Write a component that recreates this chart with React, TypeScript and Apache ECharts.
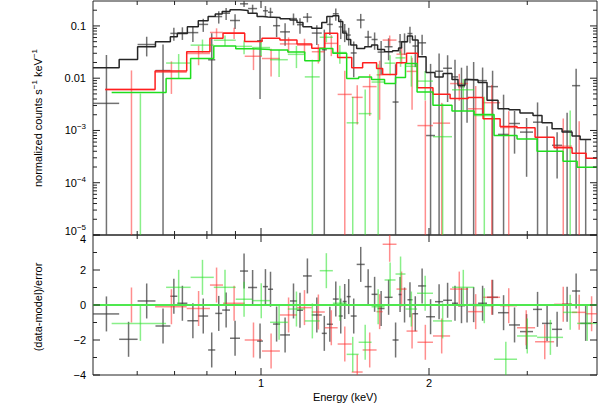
import React, { useEffect, useRef } from 'react';
import * as echarts from 'echarts';

const X_MIN = 0.5;
const X_MAX = 4;
const Y_MIN = 1e-5;
const Y_MAX = 0.3;
const R_MIN = -4;
const R_MAX = 4;

// ---- dataset 1 (black) ----
const blackEdges = [0.500, 0.557, 0.601, 0.647, 0.688, 0.708, 0.738, 0.772, 0.804, 0.828, 0.852, 0.880, 0.917, 0.948, 0.984, 1.008, 1.029, 1.051, 1.082, 1.127, 1.160, 1.189, 1.233, 1.285, 1.312, 1.345, 1.378, 1.401, 1.424, 1.448, 1.484, 1.534, 1.578, 1.618, 1.665, 1.721, 1.764, 1.786, 1.830, 1.868, 1.912, 1.976, 2.050, 2.120, 2.199, 2.254, 2.320, 2.360, 2.449, 2.541, 2.659, 2.782, 2.911, 3.072, 3.188, 3.323, 3.463, 3.609, 3.731, 3.904];
const blackModel = [0.0158, 0.0229, 0.040, 0.050, 0.062, 0.072, 0.097, 0.126, 0.151, 0.170, 0.188, 0.203, 0.197, 0.175, 0.151, 0.148, 0.147, 0.145, 0.137, 0.130, 0.116, 0.097, 0.090, 0.116, 0.151, 0.156, 0.121, 0.073, 0.055, 0.043, 0.037, 0.040, 0.043, 0.0356, 0.0321, 0.0335, 0.0378, 0.050, 0.064, 0.0538, 0.0257, 0.0129, 0.0106, 0.0123, 0.0094, 0.0073, 0.0094, 0.0092, 0.0083, 0.0038, 0.0026, 0.0025, 0.00215, 0.00194, 0.00141, 0.00108, 0.00093, 0.00078, 0.00067];
const blackData = [0.0033, -0.001, 0.0441, 0.014, 0.072, 0.074, 0.0745, 0.107, 0.0225, 0.151, 0.175, 0.127, 0.265, 0.215, 0.052, 0.195, 0.183, 0.101, 0.077, 0.138, 0.1055, 0.147, 0.073, 0.035, 0.107, 0.171, 0.096, 0.079, 0.067, 0.0304, 0.130, 0.061, 0.055, 0.0316, 0.040, 0.0035, 0.0498, 0.050, 0.0715, 0.0413, 0.0475, 0.0008, 0.0136, 0.0155, 0.0106, 0.0069, 0.0094, 0.0094, 0.009, 0.0069, 0.00084, 0.00136, 0.00093, 0.00144, 0.000005, 0.00052, 0.00098, 0.0072, 0.000005];
const blackErr = [0.0245, 0.007, 0.018, 0.03, 0.02, 0.02, 0.025, 0.03, 0.05, 0.04, 0.045, 0.04, 0.035, 0.04, 0.048, 0.045, 0.04, 0.04, 0.035, 0.035, 0.035, 0.03, 0.03, 0.05, 0.04, 0.045, 0.04, 0.03, 0.025, 0.02, 0.04, 0.02, 0.02, 0.02, 0.018, 0.015, 0.02, 0.022, 0.025, 0.025, 0.02, 0.018, 0.016, 0.012, 0.012, 0.009, 0.008, 0.011, 0.007, 0.007, 0.004, 0.001, 0.0008, 0.002, 0.0012, 0.0004, 0.0012, 0.008, 0.00065];
const blackResid = [-0.51, -1.96, 0.23, -1.2, 0.5, 0.1, -0.9, -0.63, -2.57, -0.48, -0.29, -1.9, 1.94, 1.0, -2.06, 1.05, 0.9, -1.09, -1.71, 0.23, -0.3, 1.66, -0.57, -1.62, -1.1, 0.34, -0.63, 0.2, 0.48, -0.63, 2.32, 1.05, 0.61, -0.2, 0.44, -2.0, 0.6, 0, 0.3, -0.5, 1.09, -0.67, 0.19, 0.27, 0.1, -0.04, 0, 0.02, 0.1, 0.44, -0.44, -1.14, -1.52, -0.25, -1.05, -1.39, 0.04, 0.8, -1.05];

// ---- dataset 2 (red) ----
const redEdges = [0.526, 0.646, 0.736, 0.810, 0.855, 0.935, 1.004, 1.081, 1.160, 1.233, 1.301, 1.372, 1.454, 1.521, 1.611, 1.652, 1.749, 1.823, 1.907, 2.033, 2.182, 2.350, 2.500, 2.682, 2.876, 3.098, 3.351, 3.609, 3.824, 4.0];
const redModel = [0.00607, 0.0138, 0.0321, 0.058, 0.0724, 0.0503, 0.058, 0.0538, 0.0451, 0.0373, 0.0724, 0.0250, 0.0158, 0.0197, 0.0154, 0.0118, 0.0197, 0.0299, 0.00656, 0.00492, 0.00407, 0.00426, 0.00168, 0.00119, 0.00113, 0.00074, 0.000465, 0.000366, 0.000293];
const redData = [0.00607, 0.013, 0.0297, 0.075, 0.074, 0.0263, 0.0238, 0.0453, 0.0430, 0.0321, 0.0464, 0.0049, 0.0043, 0.0069, 0.0116, 0.0536, 0.0288, 0.0135, 0.00124, 0.00138, 0.0079, 0.0026, 0.0034, 0.00114, -0.00001, -0.00002, 0.0005, 0.000005, -0.00001];
const redErr = [0.008, 0.008, 0.012, 0.015, 0.018, 0.012, 0.013, 0.015, 0.014, 0.013, 0.02, 0.009, 0.003, 0.005, 0.01, 0.012, 0.01, 0.011, 0.0025, 0.002, 0.0042, 0.0045, 0.004, 0.0012, 0.00088, 0.00036, 0.0012, 0.0015, 0.0006];
const redResid = [0, -0.1, -0.2, 1.14, 0.1, -2.0, -2.63, -0.57, -0.15, -0.4, -1.3, -2.23, -3.83, -2.57, -0.38, 3.47, 0.91, -1.49, -2.13, -1.77, 0.91, -0.38, 0.44, -0.04, -1.3, -2.1, 0.04, -0.42, -0.5];

// ---- dataset 3 (green) ----
const greenEdges = [0.540, 0.676, 0.748, 0.823, 0.901, 0.964, 1.038, 1.117, 1.198, 1.274, 1.345, 1.424, 1.496, 1.578, 1.665, 1.742, 1.815, 1.904, 2.033, 2.199, 2.409, 2.616, 2.876, 3.124, 3.477, 3.685, 4.0];
const greenModel = [0.00531, 0.00986, 0.0239, 0.0412, 0.0366, 0.0356, 0.0345, 0.0316, 0.0215, 0.0372, 0.0299, 0.00986, 0.0106, 0.00944, 0.00791, 0.0103, 0.0192, 0.00545, 0.00303, 0.00235, 0.00203, 0.00080, 0.00069, 0.00040, 0.000257, 0.000197];
const greenData = [0.000005, 0.0195, 0.0429, 0.0533, 0.0406, 0.0386, 0.0226, 0.0286, 0.0106, 0.0607, 0.031, 0.0014, 0.0021, 0.00844, 0.0194, 0.0245, 0.0169, 0.0088, 0.00076, 0.0060, 0.00193, -0.00001, -0.00001, -0.00001, 0.000005, -0.00001];
const greenErr = [0.0051, 0.0095, 0.012, 0.012, 0.012, 0.012, 0.012, 0.013, 0.012, 0.012, 0.012, 0.003, 0.004, 0.01, 0.008, 0.008, 0.01, 0.005, 0.0025, 0.0036, 0.0025, 0.00026, 0.0004, 0.00022, 0.0024, 0.0002];
const greenResid = [-1.05, 1.01, 1.58, 1.01, 0.33, 0.25, -0.99, -0.23, -0.91, 1.96, 0.1, -2.82, -2.13, -0.1, 1.43, 1.77, -0.23, 0.67, -0.91, 1.01, -0.04, -3.1, -1.77, -1.85, -0.42, -1.05];

// ---- axis ticks / labels ----
const xMajorTicks = [1, 2];
const xTickLabels = ['1', '2'];
const xMinorTicks = [0.6, 0.7, 0.8, 0.9, 3];
const yTopMajor = [1e-5, 1e-4, 1e-3, 0.01, 0.1];
const yTopLabels = ['10{s|\u22125}', '10{s|\u22124}', '10{s|\u22123}', '0.01', '0.1'];
const yTopLabelShift = [-4, 0, 0, 0, 0];
const yResMajor = [-4, -2, 0, 2, 4];
const yResLabels = ['\u22124', '\u22122', '0', '2', '4'];
const yResLabelShift = [0, 0, 0, 0, 4];
const yResMinor = [-3, -1, 1, 3];

const FONT = "'Liberation Sans', Arial, Helvetica, sans-serif";
const SUP = { s: { fontSize: 8, fontFamily: FONT, fill: '#000', padding: [0, 0, 7, 0] } };

const COLORS = {
  black: { cross: 'rgba(60,60,60,0.72)', model: '#262626' },
  red: { cross: 'rgba(255,50,50,0.55)', model: '#ff1f1f' },
  green: { cross: 'rgba(40,225,40,0.55)', model: '#1fdd1f' },
};

function ln(x1: number, y1: number, x2: number, y2: number, stroke: string, w: number) {
  return { type: 'line', shape: { x1, y1, x2, y2 }, style: { stroke, lineWidth: w } };
}

function spectrumSeries(edges: number[], data: number[], err: number[], color: string) {
  const items: number[][] = [];
  data.forEach((v, i) => {
    if (v > 0) items.push([edges[i], edges[i + 1], v, err[i]]);
  });
  return {
    type: 'custom', xAxisIndex: 0, yAxisIndex: 0, silent: true, clip: true,
    encode: { x: [0, 1], y: 2 },
    data: items,
    renderItem: (params: any, api: any) => {
      const lo = api.value(0), hi = api.value(1), v = api.value(2), e = api.value(3);
      const top = Math.min(v + e, Y_MAX);
      const bot = v - e > Y_MIN ? v - e : Y_MIN;
      const xc = (lo + hi) / 2;
      const children: any[] = [];
      if (v >= Y_MIN) {
        const a = api.coord([lo, v]), b = api.coord([hi, v]);
        children.push(ln(a[0], a[1], b[0], b[1], color, 1.5));
      }
      const c = api.coord([xc, top]), d = api.coord([xc, bot]);
      children.push(ln(c[0], c[1], d[0], d[1], color, 1.5));
      return { type: 'group', children };
    },
  };
}

function residSeries(edges: number[], resid: number[], color: string) {
  const items = resid.map((r, i) => [edges[i], edges[i + 1], r]);
  return {
    type: 'custom', xAxisIndex: 1, yAxisIndex: 1, silent: true, clip: true,
    encode: { x: [0, 1], y: 2 },
    data: items,
    renderItem: (params: any, api: any) => {
      const lo = api.value(0), hi = api.value(1), r = api.value(2);
      const xc = (lo + hi) / 2;
      const a = api.coord([lo, r]), b = api.coord([hi, r]);
      const c = api.coord([xc, Math.min(r + 1, R_MAX)]), d = api.coord([xc, Math.max(r - 1, R_MIN)]);
      return { type: 'group', children: [ln(a[0], a[1], b[0], b[1], color, 1.5), ln(c[0], c[1], d[0], d[1], color, 1.5)] };
    },
  };
}

function modelSeries(edges: number[], model: number[], color: string) {
  const pts = model.map((m, i) => [edges[i], m]);
  pts.push([edges[edges.length - 1], model[model.length - 1]]);
  return {
    type: 'line', xAxisIndex: 0, yAxisIndex: 0, step: 'end', silent: true, clip: true,
    showSymbol: false, symbol: 'none', data: pts,
    lineStyle: { color, width: 1.5 },
  };
}

function decorSeries(gridIdx: number) {
  const yRef = gridIdx === 0 ? 0.01 : 0;
  const items: number[][] = [];
  xMajorTicks.forEach((x, i) => items.push([x, yRef, 0, i]));
  xMinorTicks.forEach((x) => items.push([x, yRef, 1, 0]));
  if (gridIdx === 0) {
    yTopMajor.forEach((y, i) => items.push([1, y, 2, i]));
    for (let n = -5; n <= -1; n++) {
      for (let m = 2; m <= 9; m++) {
        const v = m * Math.pow(10, n);
        if (v < Y_MAX) items.push([1, v, 3, 0]);
      }
    }
  } else {
    yResMajor.forEach((y, i) => items.push([1, y, 2, i]));
    yResMinor.forEach((y) => items.push([1, y, 3, 0]));
  }
  return {
    type: 'custom', xAxisIndex: gridIdx, yAxisIndex: gridIdx, silent: true, clip: false,
    encode: { x: 0, y: 1 },
    data: items,
    z: 10,
    renderItem: (params: any, api: any) => {
      const cs = params.coordSys;
      const L = cs.x, R = cs.x + cs.width, T = cs.y, B = cs.y + cs.height;
      const kind = api.value(2), idx = api.value(3);
      const p = api.coord([api.value(0), api.value(1)]);
      const col = '#222';
      const children: any[] = [];
      if (kind === 0 || kind === 1) {
        const len = kind === 0 ? 7 : 4;
        children.push(ln(p[0], B, p[0], B - len, col, 1), ln(p[0], T, p[0], T + len, col, 1));
        if (kind === 0 && gridIdx === 1) {
          children.push({ type: 'text', style: { text: xTickLabels[idx], x: p[0], y: B + 2, align: 'center', verticalAlign: 'top', fontSize: 11, fontFamily: FONT, fill: '#000' } });
        }
      } else {
        const len = kind === 2 ? 7 : 4;
        children.push(ln(L, p[1], L + len, p[1], col, 1), ln(R, p[1], R - len, p[1], col, 1));
        if (kind === 2) {
          const label = gridIdx === 0 ? yTopLabels[idx] : yResLabels[idx];
          const shift = gridIdx === 0 ? yTopLabelShift[idx] : yResLabelShift[idx];
          children.push({ type: 'text', style: { text: label, rich: SUP, x: L - 7, y: p[1] + shift, align: 'right', verticalAlign: 'middle', fontSize: 11, fontFamily: FONT, fill: '#000' } });
        }
      }
      return { type: 'group', children };
    },
  };
}

export default function App() {
  const ref = useRef<HTMLDivElement>(null);
  useEffect(() => {
    const chart = echarts.init(ref.current as HTMLDivElement, null, { renderer: 'svg' });
    const hiddenAxis = { axisLine: { show: false }, axisTick: { show: false }, axisLabel: { show: false }, splitLine: { show: false } };
    const option: any = {
      animation: false,
      backgroundColor: '#fff',
      grid: [
        { left: 93, top: 1, width: 504, height: 234, show: true, borderColor: '#222', borderWidth: 1, backgroundColor: 'transparent' },
        { left: 93, top: 235, width: 504, height: 140, show: true, borderColor: '#222', borderWidth: 1, backgroundColor: 'transparent' },
      ],
      xAxis: [
        { type: 'log', logBase: 10, min: X_MIN, max: X_MAX, gridIndex: 0, ...hiddenAxis },
        { type: 'log', logBase: 10, min: X_MIN, max: X_MAX, gridIndex: 1, ...hiddenAxis },
      ],
      yAxis: [
        { type: 'log', logBase: 10, min: Y_MIN, max: Y_MAX, gridIndex: 0, ...hiddenAxis },
        { type: 'value', min: R_MIN, max: R_MAX, gridIndex: 1, ...hiddenAxis },
      ],
      series: [
        spectrumSeries(blackEdges, blackData, blackErr, COLORS.black.cross),
        modelSeries(blackEdges, blackModel, COLORS.black.model),
        spectrumSeries(redEdges, redData, redErr, COLORS.red.cross),
        modelSeries(redEdges, redModel, COLORS.red.model),
        spectrumSeries(greenEdges, greenData, greenErr, COLORS.green.cross),
        modelSeries(greenEdges, greenModel, COLORS.green.model),
        residSeries(blackEdges, blackResid, COLORS.black.cross),
        residSeries(redEdges, redResid, COLORS.red.cross),
        residSeries(greenEdges, greenResid, COLORS.green.cross),
        {
          type: 'line', xAxisIndex: 1, yAxisIndex: 1, silent: true, showSymbol: false, symbol: 'none',
          data: [[X_MIN, 0], [X_MAX, 0]], lineStyle: { color: '#4fe84f', width: 2 },
        },
        decorSeries(0),
        decorSeries(1),
      ],
      graphic: [
        { type: 'text', x: 38, y: 118, rotation: Math.PI / 2, silent: true,
          style: { text: 'normalized counts s{s|\u22121} keV{s|\u22121}', rich: SUP, x: 0, y: 0, align: 'center', verticalAlign: 'middle', fontSize: 11, fontFamily: FONT, fill: '#000' } },
        { type: 'text', x: 38, y: 307, rotation: Math.PI / 2, silent: true,
          style: { text: '(data-model)/error', x: 0, y: 0, align: 'center', verticalAlign: 'middle', fontSize: 11, fontFamily: FONT, fill: '#000' } },
        { type: 'text', x: 345, y: 397, silent: true,
          style: { text: 'Energy (keV)', x: 0, y: 0, align: 'center', verticalAlign: 'middle', fontSize: 11, fontFamily: FONT, fill: '#000' } },
      ],
    };
    chart.setOption(option);
    return () => chart.dispose();
  }, []);
  return <div ref={ref} style={{ position: 'absolute', left: 0, top: 0, width: 598, height: 403, background: '#fff' }} />;
}
